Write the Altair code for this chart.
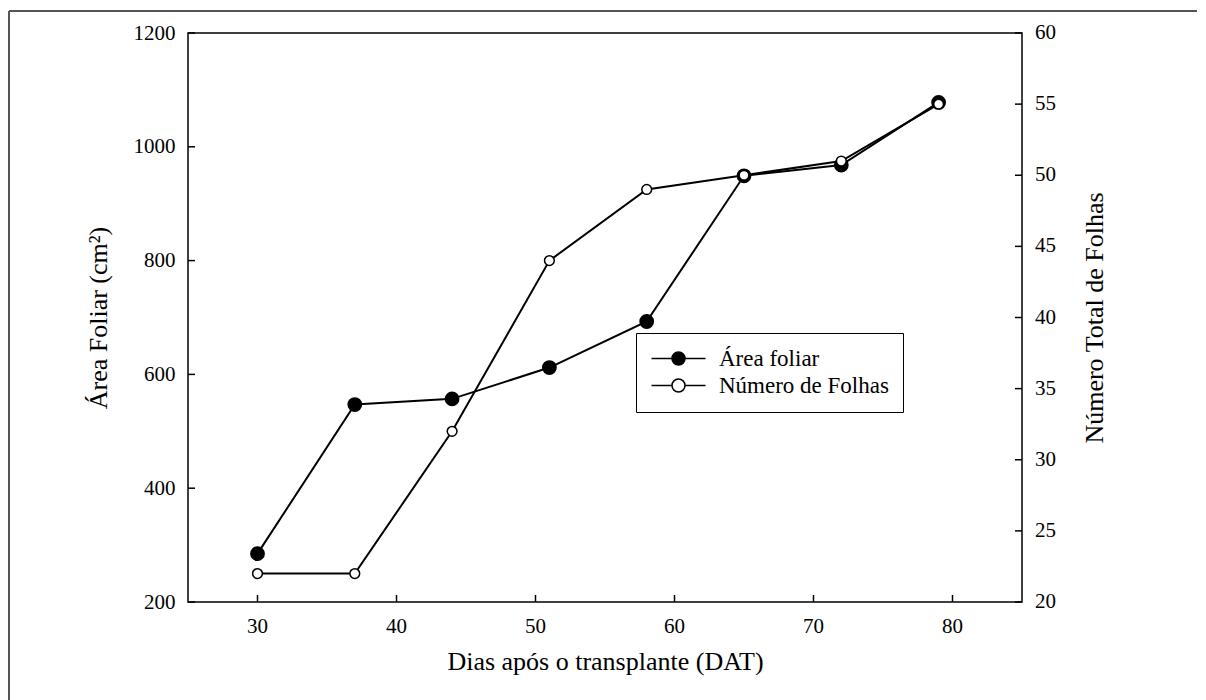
import altair as alt
import pandas as pd

# ---- data ----
dias = [30, 37, 44, 51, 58, 65, 72, 79]
area_foliar = [285, 547, 557, 612, 693, 949, 968, 1078]
numero_folhas = [22, 22, 32, 44, 49, 50, 51, 55]
series = ["Área foliar", "Número de Folhas"]

x_ticks = [30, 40, 50, 60, 70, 80]
left_ticks = [200, 400, 600, 800, 1000, 1200]
right_ticks = [20, 25, 30, 35, 40, 45, 50, 55, 60]

df_area = pd.DataFrame({"dias": dias, "valor": area_foliar, "serie": series[0]})
df_folhas = pd.DataFrame({"dias": dias, "valor": numero_folhas, "serie": series[1]})
df_xt = pd.DataFrame({"dias": x_ticks, "txt": [str(v) for v in x_ticks]})
df_lt = pd.DataFrame({"valor": left_ticks})
df_rt = pd.DataFrame({"valor": right_ticks, "txt": [str(v) for v in right_ticks]})
df_frame = pd.DataFrame({"a": [0]})

FONT = "Liberation Serif"
LS = 21  # tick label size
TS = 26  # axis title size
W, H = 834, 569

common = dict(labelFont=FONT, labelFontSize=LS, labelColor="black",
              titleFont=FONT, titleFontSize=TS, titleFontWeight="normal",
              titleColor="black", ticks=False, domain=False, grid=False, format="d")

x_axis = alt.Axis(values=x_ticks, labels=False,
                  title="Dias após o transplante (DAT)", titlePadding=46, **common)
x_scale = alt.Scale(domain=[25, 85], nice=False, zero=False)
X = alt.X("dias:Q", scale=x_scale, axis=x_axis)

yl_axis = alt.Axis(values=left_ticks, labelPadding=13,
                   title="Área Foliar (cm²)", titlePadding=22, **common)
yl_scale = alt.Scale(domain=[200, 1200], nice=False, zero=False)
YL = alt.Y("valor:Q", scale=yl_scale, axis=yl_axis)

yr_axis = alt.Axis(values=right_ticks, orient="right", labels=False,
                   title="Número Total de Folhas", titlePadding=59, titleAngle=270,
                   titleBaseline="top", **common)
yr_scale = alt.Scale(domain=[20, 60], nice=False, zero=False)
YR = alt.Y("valor:Q", scale=yr_scale, axis=yr_axis)

legend_path = ("M-1,0L1.05,0M2.35,0L4.4,0M1.05,0A0.65,0.65,0,1,0,2.35,0"
               "A0.65,0.65,0,1,0,1.05,0Z")
fill_enc = alt.Fill(
    "serie:N",
    scale=alt.Scale(domain=series, range=["black", "white"]),
    legend=alt.Legend(title=None, orient="none", legendX=448, legendY=300,
                      symbolType=legend_path, symbolSize=400,
                      symbolStrokeColor="black", symbolStrokeWidth=1.5,
                      labelFont=FONT, labelFontSize=23, labelColor="black",
                      labelOffset=46, rowPadding=3, padding=14,
                      strokeColor="black", fillColor="white", labelLimit=400),
)

# outer page frame (left and top edges only, as in the reference)
frame_left = alt.Chart(df_frame).mark_rule(color="#555555", strokeWidth=2).encode(
    x=alt.value(-179), y=alt.value(-22), y2=alt.value(900))
frame_top = alt.Chart(df_frame).mark_rule(color="#555555", strokeWidth=2).encode(
    x=alt.value(-179), x2=alt.value(1009), y=alt.value(-22))

x_tick_marks = alt.Chart(df_xt).mark_rule(color="black", strokeWidth=1.5).encode(
    x=X, y=alt.value(H - 7), y2=alt.value(H))
x_tick_labels = alt.Chart(df_xt).mark_text(
    font=FONT, fontSize=LS, color="black", align="center", baseline="alphabetic"
).encode(x=X, y=alt.value(H + 31), text="txt:N")

left_tick_marks = alt.Chart(df_lt).mark_rule(color="black", strokeWidth=1.5).encode(
    y=YL, x=alt.value(0), x2=alt.value(7))

right_tick_marks = alt.Chart(df_rt).mark_rule(color="black", strokeWidth=1.5).encode(
    y=YR, x=alt.value(W - 7), x2=alt.value(W))
right_tick_labels = alt.Chart(df_rt).mark_text(
    font=FONT, fontSize=LS, color="black", align="left", baseline="middle"
).encode(y=YR, x=alt.value(W + 13), text="txt:N")

area_line = alt.Chart(df_area).mark_line(color="black", strokeWidth=2).encode(x=X, y=YL)
area_pts = alt.Chart(df_area).mark_circle(size=177, stroke="black", strokeWidth=1.5,
                                          opacity=1).encode(x=X, y=YL, fill=fill_enc)

fol_line = alt.Chart(df_folhas).mark_line(color="black", strokeWidth=2).encode(x=X, y=YR)
fol_pts = alt.Chart(df_folhas).mark_circle(size=95, stroke="black", strokeWidth=1.5,
                                           opacity=1).encode(x=X, y=YR, fill=fill_enc)

left = alt.layer(frame_left, frame_top, x_tick_marks, x_tick_labels, left_tick_marks,
                 area_line, area_pts)
right = alt.layer(right_tick_marks, right_tick_labels, fol_line, fol_pts)

axis_cfg = dict(labelFont=FONT, labelFontSize=LS, labelColor="black",
                titleFont=FONT, titleFontSize=TS, titleFontWeight="normal",
                titleColor="black")

chart = (
    alt.layer(left, right)
    .resolve_scale(y="independent")
    .properties(width=W, height=H,
                padding={"left": 180, "top": 25, "right": 176, "bottom": 98},
                autosize=alt.AutoSizeParams(type="none"),
                background="white")
    .configure_view(stroke="black", strokeWidth=1.5)
    .configure_axis(**axis_cfg)
)

chart.save("out.html", embed_options={"renderer": "svg", "actions": False})
